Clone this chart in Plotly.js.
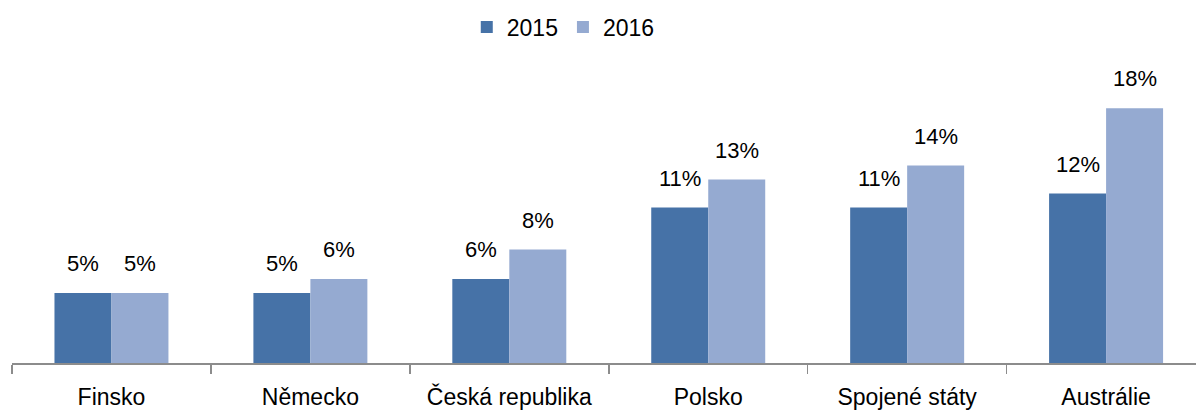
<!DOCTYPE html>
<html>
<head>
<meta charset="utf-8">
<script src="https://cdn.plot.ly/plotly-3.0.1.min.js"></script>
<style>html,body{margin:0;padding:0;background:#fff;overflow:hidden}</style>
</head>
<body>
<div id="chart" style="width:1196px;height:410px"></div>
<script>
const categories = ["Finsko", "Německo", "Česká republika", "Polsko", "Spojené státy", "Austrálie"];
const values2015 = [5.0, 5.0, 6.0, 11.1, 11.1, 12.1];
const values2016 = [5.0, 6.0, 8.1, 13.1, 14.1, 18.2];
const seriesNames = ["2015", "2016"];
const colors = ["#4672A7", "#95AAD1"];

const FONT = "Liberation Sans, Arial, sans-serif";
const FS = 22;

const traces = [values2015, values2016].map((vals, i) => ({
  type: "bar",
  name: seriesNames[i],
  x: categories,
  y: vals,
  marker: {color: colors[i], line: {width: 0}},
  hoverinfo: "skip"
}));

const annotations = [];
[values2015, values2016].forEach((vals, i) => {
  vals.forEach((v, j) => {
    annotations.push({
      x: categories[j], y: v, xref: "x", yref: "y",
      text: Math.round(v) + "%",
      showarrow: false, yanchor: "bottom",
      xshift: i === 0 ? -28.5 : 28.5, yshift: 15,
      font: {family: FONT, size: FS, color: "#000"}
    });
  });
});

const layout = {
  width: 1196, height: 410,
  margin: {l: 11.5, r: 0, t: 60, b: 47, autoexpand: false},
  paper_bgcolor: "#fff", plot_bgcolor: "#fff",
  barmode: "group", bargap: 0.427, bargroupgap: 0,
  showlegend: true,
  legend: {orientation: "h", x: 0.4656, xanchor: "center", y: 1.109, yanchor: "middle",
           font: {family: FONT, size: 23, color: "#000"}, itemwidth: 30, traceorder: "normal"},
  xaxis: {
    type: "category", range: [-0.5, 5.452],
    showline: true, linecolor: "#8c8c8c", linewidth: 1.5,
    ticks: "outside", tickson: "boundaries", ticklen: 9, tickcolor: "#8c8c8c", tickwidth: 1.5,
    ticklabelstandoff: 13,
    tickfont: {family: FONT, size: 23, color: "#000"},
    showgrid: false, zeroline: false, fixedrange: true
  },
  yaxis: {range: [0, 21.64], visible: false, showgrid: false, zeroline: false, fixedrange: true},
  annotations: annotations
};

Plotly.newPlot("chart", traces, layout, {staticPlot: true, displayModeBar: false});
</script>
</body>
</html>
